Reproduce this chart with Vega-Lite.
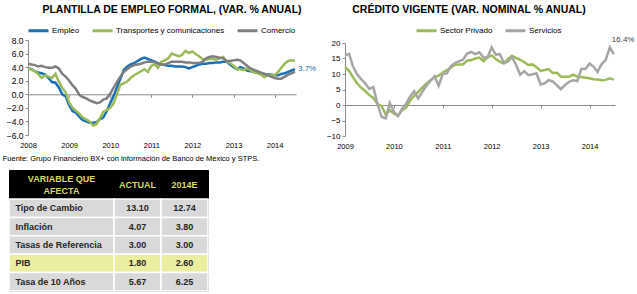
{
  "$schema": "https://vega.github.io/schema/vega-lite/v6.json",
  "background": "#ffffff",
  "autosize": {"type": "pad"},
  "padding": {"left": 2, "top": 4, "right": 2, "bottom": 2},
  "config": {
    "font": "Liberation Sans",
    "view": {"stroke": null},
    "axis": {"grid": false, "title": null, "labelColor": "#000000", "domainColor": "#8c8c8c", "tickColor": "#8c8c8c", "tickSize": 3, "domainWidth": 1, "tickWidth": 1},
    "legend": {"orient": "none", "direction": "horizontal", "symbolType": "stroke", "symbolSize": 400, "symbolStrokeWidth": 3, "labelFontSize": 8, "labelColor": "#000000", "columnPadding": 6, "labelOffset": 2, "padding": 0},
    "title": {"fontSize": 10.5, "fontWeight": "bold", "color": "#000000", "anchor": "middle"}
  },
  "datasets": {
    "empleo": [
      {"fecha": "2008-01-01", "Empleo": 3.8, "Transportes y comunicaciones": 3.9, "Comercio": 4.5},
      {"fecha": "2008-02-01", "Empleo": 3.7, "Transportes y comunicaciones": 3.6, "Comercio": 4.4},
      {"fecha": "2008-03-01", "Empleo": 3.4, "Transportes y comunicaciones": 3.4, "Comercio": 4.3},
      {"fecha": "2008-04-01", "Empleo": 3.2, "Transportes y comunicaciones": 3.0, "Comercio": 4.1},
      {"fecha": "2008-05-01", "Empleo": 3.1, "Transportes y comunicaciones": 2.4, "Comercio": 4.2},
      {"fecha": "2008-06-01", "Empleo": 2.9, "Transportes y comunicaciones": 2.8, "Comercio": 4.0},
      {"fecha": "2008-07-01", "Empleo": 2.4, "Transportes y comunicaciones": 2.6, "Comercio": 3.9},
      {"fecha": "2008-08-01", "Empleo": 1.8, "Transportes y comunicaciones": 2.4, "Comercio": 3.9},
      {"fecha": "2008-09-01", "Empleo": 1.7, "Transportes y comunicaciones": 3.0, "Comercio": 4.1},
      {"fecha": "2008-10-01", "Empleo": 1.0, "Transportes y comunicaciones": 1.9, "Comercio": 3.8},
      {"fecha": "2008-11-01", "Empleo": 0.0, "Transportes y comunicaciones": 0.9, "Comercio": 3.0},
      {"fecha": "2008-12-01", "Empleo": -0.3, "Transportes y comunicaciones": 0.3, "Comercio": 2.6},
      {"fecha": "2009-01-01", "Empleo": -1.6, "Transportes y comunicaciones": -1.2, "Comercio": 2.0},
      {"fecha": "2009-02-01", "Empleo": -2.5, "Transportes y comunicaciones": -2.0, "Comercio": 1.3},
      {"fecha": "2009-03-01", "Empleo": -2.7, "Transportes y comunicaciones": -2.4, "Comercio": 0.8},
      {"fecha": "2009-04-01", "Empleo": -3.3, "Transportes y comunicaciones": -2.9, "Comercio": -0.1},
      {"fecha": "2009-05-01", "Empleo": -3.8, "Transportes y comunicaciones": -3.4, "Comercio": -0.4},
      {"fecha": "2009-06-01", "Empleo": -4.0, "Transportes y comunicaciones": -3.7, "Comercio": -0.6},
      {"fecha": "2009-07-01", "Empleo": -4.2, "Transportes y comunicaciones": -4.0, "Comercio": -0.9},
      {"fecha": "2009-08-01", "Empleo": -4.2, "Transportes y comunicaciones": -4.6, "Comercio": -1.1},
      {"fecha": "2009-09-01", "Empleo": -4.1, "Transportes y comunicaciones": -4.4, "Comercio": -1.3},
      {"fecha": "2009-10-01", "Empleo": -3.7, "Transportes y comunicaciones": -3.5, "Comercio": -1.2},
      {"fecha": "2009-11-01", "Empleo": -3.4, "Transportes y comunicaciones": -2.6, "Comercio": -0.8},
      {"fecha": "2009-12-01", "Empleo": -2.5, "Transportes y comunicaciones": -2.3, "Comercio": -0.6},
      {"fecha": "2010-01-01", "Empleo": -1.3, "Transportes y comunicaciones": -2.0, "Comercio": 0.1},
      {"fecha": "2010-02-01", "Empleo": -0.2, "Transportes y comunicaciones": -1.3, "Comercio": 1.0},
      {"fecha": "2010-03-01", "Empleo": 1.0, "Transportes y comunicaciones": 0.0, "Comercio": 1.8},
      {"fecha": "2010-04-01", "Empleo": 2.3, "Transportes y comunicaciones": 1.4, "Comercio": 2.6},
      {"fecha": "2010-05-01", "Empleo": 3.6, "Transportes y comunicaciones": 1.6, "Comercio": 3.3},
      {"fecha": "2010-06-01", "Empleo": 4.1, "Transportes y comunicaciones": 1.9, "Comercio": 3.7},
      {"fecha": "2010-07-01", "Empleo": 4.4, "Transportes y comunicaciones": 2.4, "Comercio": 4.1},
      {"fecha": "2010-08-01", "Empleo": 4.6, "Transportes y comunicaciones": 2.8, "Comercio": 4.3},
      {"fecha": "2010-09-01", "Empleo": 4.9, "Transportes y comunicaciones": 3.1, "Comercio": 4.4},
      {"fecha": "2010-10-01", "Empleo": 5.2, "Transportes y comunicaciones": 3.4, "Comercio": 4.5},
      {"fecha": "2010-11-01", "Empleo": 5.4, "Transportes y comunicaciones": 3.7, "Comercio": 4.7},
      {"fecha": "2010-12-01", "Empleo": 5.2, "Transportes y comunicaciones": 3.3, "Comercio": 4.8},
      {"fecha": "2011-01-01", "Empleo": 5.0, "Transportes y comunicaciones": 4.2, "Comercio": 4.8},
      {"fecha": "2011-02-01", "Empleo": 4.8, "Transportes y comunicaciones": 4.4, "Comercio": 4.7},
      {"fecha": "2011-03-01", "Empleo": 4.6, "Transportes y comunicaciones": 3.9, "Comercio": 4.5},
      {"fecha": "2011-04-01", "Empleo": 4.4, "Transportes y comunicaciones": 4.8, "Comercio": 4.4},
      {"fecha": "2011-05-01", "Empleo": 4.3, "Transportes y comunicaciones": 5.0, "Comercio": 4.4},
      {"fecha": "2011-06-01", "Empleo": 4.2, "Transportes y comunicaciones": 5.3, "Comercio": 4.6},
      {"fecha": "2011-07-01", "Empleo": 4.2, "Transportes y comunicaciones": 6.0, "Comercio": 4.8},
      {"fecha": "2011-08-01", "Empleo": 4.1, "Transportes y comunicaciones": 5.8, "Comercio": 4.8},
      {"fecha": "2011-09-01", "Empleo": 4.1, "Transportes y comunicaciones": 5.6, "Comercio": 4.8},
      {"fecha": "2011-10-01", "Empleo": 4.1, "Transportes y comunicaciones": 5.8, "Comercio": 4.8},
      {"fecha": "2011-11-01", "Empleo": 4.0, "Transportes y comunicaciones": 6.4, "Comercio": 4.7},
      {"fecha": "2011-12-01", "Empleo": 3.8, "Transportes y comunicaciones": 6.1, "Comercio": 4.7},
      {"fecha": "2012-01-01", "Empleo": 4.0, "Transportes y comunicaciones": 6.3, "Comercio": 4.6},
      {"fecha": "2012-02-01", "Empleo": 4.2, "Transportes y comunicaciones": 5.9, "Comercio": 4.6},
      {"fecha": "2012-03-01", "Empleo": 4.4, "Transportes y comunicaciones": 5.6, "Comercio": 4.6},
      {"fecha": "2012-04-01", "Empleo": 4.5, "Transportes y comunicaciones": 5.2, "Comercio": 4.8},
      {"fecha": "2012-05-01", "Empleo": 4.5, "Transportes y comunicaciones": 5.1, "Comercio": 5.3},
      {"fecha": "2012-06-01", "Empleo": 4.6, "Transportes y comunicaciones": 5.2, "Comercio": 5.5},
      {"fecha": "2012-07-01", "Empleo": 4.6, "Transportes y comunicaciones": 5.2, "Comercio": 5.6},
      {"fecha": "2012-08-01", "Empleo": 4.7, "Transportes y comunicaciones": 5.1, "Comercio": 5.5},
      {"fecha": "2012-09-01", "Empleo": 4.7, "Transportes y comunicaciones": 5.3, "Comercio": 5.4},
      {"fecha": "2012-10-01", "Empleo": 4.8, "Transportes y comunicaciones": 5.5, "Comercio": 5.3},
      {"fecha": "2012-11-01", "Empleo": 4.8, "Transportes y comunicaciones": 4.8, "Comercio": 4.9},
      {"fecha": "2012-12-01", "Empleo": 4.4, "Transportes y comunicaciones": 4.6, "Comercio": 4.9},
      {"fecha": "2013-01-01", "Empleo": 4.0, "Transportes y comunicaciones": 4.2, "Comercio": 5.0},
      {"fecha": "2013-02-01", "Empleo": 3.7, "Transportes y comunicaciones": 3.7, "Comercio": 5.1},
      {"fecha": "2013-03-01", "Empleo": 4.0, "Transportes y comunicaciones": 3.7, "Comercio": 5.0},
      {"fecha": "2013-04-01", "Empleo": 3.8, "Transportes y comunicaciones": 3.6, "Comercio": 4.6},
      {"fecha": "2013-05-01", "Empleo": 3.5, "Transportes y comunicaciones": 3.8, "Comercio": 4.2},
      {"fecha": "2013-06-01", "Empleo": 3.4, "Transportes y comunicaciones": 3.5, "Comercio": 3.8},
      {"fecha": "2013-07-01", "Empleo": 3.3, "Transportes y comunicaciones": 3.2, "Comercio": 3.6},
      {"fecha": "2013-08-01", "Empleo": 3.2, "Transportes y comunicaciones": 3.1, "Comercio": 3.4},
      {"fecha": "2013-09-01", "Empleo": 3.1, "Transportes y comunicaciones": 2.9, "Comercio": 3.2},
      {"fecha": "2013-10-01", "Empleo": 3.0, "Transportes y comunicaciones": 2.5, "Comercio": 3.0},
      {"fecha": "2013-11-01", "Empleo": 2.9, "Transportes y comunicaciones": 2.8, "Comercio": 2.8},
      {"fecha": "2013-12-01", "Empleo": 2.9, "Transportes y comunicaciones": 2.9, "Comercio": 2.6},
      {"fecha": "2014-01-01", "Empleo": 2.8, "Transportes y comunicaciones": 2.8, "Comercio": 2.4},
      {"fecha": "2014-02-01", "Empleo": 2.8, "Transportes y comunicaciones": 3.3, "Comercio": 2.3},
      {"fecha": "2014-03-01", "Empleo": 3.0, "Transportes y comunicaciones": 3.9, "Comercio": 2.3},
      {"fecha": "2014-04-01", "Empleo": 3.1, "Transportes y comunicaciones": 4.5, "Comercio": 2.6},
      {"fecha": "2014-05-01", "Empleo": 3.3, "Transportes y comunicaciones": 4.9, "Comercio": 2.9},
      {"fecha": "2014-06-01", "Empleo": 3.5, "Transportes y comunicaciones": 5.0, "Comercio": 3.1},
      {"fecha": "2014-07-01", "Empleo": 3.7, "Transportes y comunicaciones": 4.9, "Comercio": 3.3}
    ],
    "credito": [
      {"fecha": "2009-01-01", "Sector Privado": 12.3, "Servicios": 16.0},
      {"fecha": "2009-02-01", "Sector Privado": 11.0, "Servicios": 16.5},
      {"fecha": "2009-03-01", "Sector Privado": 9.0, "Servicios": 12.5},
      {"fecha": "2009-04-01", "Sector Privado": 7.0, "Servicios": 10.0},
      {"fecha": "2009-05-01", "Sector Privado": 5.6, "Servicios": 8.3},
      {"fecha": "2009-06-01", "Sector Privado": 4.5, "Servicios": 7.0},
      {"fecha": "2009-07-01", "Sector Privado": 3.2, "Servicios": 5.2},
      {"fecha": "2009-08-01", "Sector Privado": 2.3, "Servicios": 5.8},
      {"fecha": "2009-09-01", "Sector Privado": 0.3, "Servicios": 0.2},
      {"fecha": "2009-10-01", "Sector Privado": -0.3, "Servicios": -3.8},
      {"fecha": "2009-11-01", "Sector Privado": -3.1, "Servicios": -4.3},
      {"fecha": "2009-12-01", "Sector Privado": -1.7, "Servicios": 0.6},
      {"fecha": "2010-01-01", "Sector Privado": -2.7, "Servicios": -2.1},
      {"fecha": "2010-02-01", "Sector Privado": -3.4, "Servicios": -3.6},
      {"fecha": "2010-03-01", "Sector Privado": -1.8, "Servicios": -1.4},
      {"fecha": "2010-04-01", "Sector Privado": -0.9, "Servicios": 0.3},
      {"fecha": "2010-05-01", "Sector Privado": 1.4, "Servicios": 2.7},
      {"fecha": "2010-06-01", "Sector Privado": 2.9, "Servicios": 4.4},
      {"fecha": "2010-07-01", "Sector Privado": 4.2, "Servicios": 2.1},
      {"fecha": "2010-08-01", "Sector Privado": 5.6, "Servicios": 4.3},
      {"fecha": "2010-09-01", "Sector Privado": 6.9, "Servicios": 6.2},
      {"fecha": "2010-10-01", "Sector Privado": 8.0, "Servicios": 7.8},
      {"fecha": "2010-11-01", "Sector Privado": 9.0, "Servicios": 9.2},
      {"fecha": "2010-12-01", "Sector Privado": 9.5, "Servicios": 6.2},
      {"fecha": "2011-01-01", "Sector Privado": 10.5, "Servicios": 10.0},
      {"fecha": "2011-02-01", "Sector Privado": 11.3, "Servicios": 10.2},
      {"fecha": "2011-03-01", "Sector Privado": 12.0, "Servicios": 12.5},
      {"fecha": "2011-04-01", "Sector Privado": 13.0, "Servicios": 13.5},
      {"fecha": "2011-05-01", "Sector Privado": 13.1, "Servicios": 14.1},
      {"fecha": "2011-06-01", "Sector Privado": 13.1, "Servicios": 14.6},
      {"fecha": "2011-07-01", "Sector Privado": 14.3, "Servicios": 16.6},
      {"fecha": "2011-08-01", "Sector Privado": 14.5, "Servicios": 17.1},
      {"fecha": "2011-09-01", "Sector Privado": 15.0, "Servicios": 16.4},
      {"fecha": "2011-10-01", "Sector Privado": 15.3, "Servicios": 17.0},
      {"fecha": "2011-11-01", "Sector Privado": 14.2, "Servicios": 15.3},
      {"fecha": "2011-12-01", "Sector Privado": 15.4, "Servicios": 15.4},
      {"fecha": "2012-01-01", "Sector Privado": 16.0, "Servicios": 18.6},
      {"fecha": "2012-02-01", "Sector Privado": 14.8, "Servicios": 16.2},
      {"fecha": "2012-03-01", "Sector Privado": 14.0, "Servicios": 16.5},
      {"fecha": "2012-04-01", "Sector Privado": 13.4, "Servicios": 13.6},
      {"fecha": "2012-05-01", "Sector Privado": 14.8, "Servicios": 13.9},
      {"fecha": "2012-06-01", "Sector Privado": 15.9, "Servicios": 15.5},
      {"fecha": "2012-07-01", "Sector Privado": 15.2, "Servicios": 13.0},
      {"fecha": "2012-08-01", "Sector Privado": 14.6, "Servicios": 9.8},
      {"fecha": "2012-09-01", "Sector Privado": 13.8, "Servicios": 10.9},
      {"fecha": "2012-10-01", "Sector Privado": 12.9, "Servicios": 9.6},
      {"fecha": "2012-11-01", "Sector Privado": 13.1, "Servicios": 9.9},
      {"fecha": "2012-12-01", "Sector Privado": 12.2, "Servicios": 10.2},
      {"fecha": "2013-01-01", "Sector Privado": 11.0, "Servicios": 6.6},
      {"fecha": "2013-02-01", "Sector Privado": 11.3, "Servicios": 7.0},
      {"fecha": "2013-03-01", "Sector Privado": 11.6, "Servicios": 8.0},
      {"fecha": "2013-04-01", "Sector Privado": 10.3, "Servicios": 7.6},
      {"fecha": "2013-05-01", "Sector Privado": 10.4, "Servicios": 6.4},
      {"fecha": "2013-06-01", "Sector Privado": 9.2, "Servicios": 5.1},
      {"fecha": "2013-07-01", "Sector Privado": 9.1, "Servicios": 6.4},
      {"fecha": "2013-08-01", "Sector Privado": 9.1, "Servicios": 7.5},
      {"fecha": "2013-09-01", "Sector Privado": 9.8, "Servicios": 8.0},
      {"fecha": "2013-10-01", "Sector Privado": 9.2, "Servicios": 7.7},
      {"fecha": "2013-11-01", "Sector Privado": 9.0, "Servicios": 11.7},
      {"fecha": "2013-12-01", "Sector Privado": 8.8, "Servicios": 11.6},
      {"fecha": "2014-01-01", "Sector Privado": 8.6, "Servicios": 13.4},
      {"fecha": "2014-02-01", "Sector Privado": 8.3, "Servicios": 12.3},
      {"fecha": "2014-03-01", "Sector Privado": 8.2, "Servicios": 10.7},
      {"fecha": "2014-04-01", "Sector Privado": 8.0, "Servicios": 13.2},
      {"fecha": "2014-05-01", "Sector Privado": 8.1, "Servicios": 14.5},
      {"fecha": "2014-06-01", "Sector Privado": 8.6, "Servicios": 18.6},
      {"fecha": "2014-07-01", "Sector Privado": 8.2, "Servicios": 16.4}
    ],
    "tabla": [
      {"variable": "Tipo de Cambio", "ACTUAL": 13.10, "2014E": 12.74},
      {"variable": "Inflación", "ACTUAL": 4.07, "2014E": 3.80},
      {"variable": "Tasas de Referencia", "ACTUAL": 3.00, "2014E": 3.00},
      {"variable": "PIB", "ACTUAL": 1.80, "2014E": 2.60},
      {"variable": "Tasa de 10 Años", "ACTUAL": 5.67, "2014E": 6.25}
    ]
  },
  "bounds": "flush",
  "spacing": 130,
  "resolve": {"scale": {"color": "independent", "x": "independent", "y": "independent"}, "legend": {"color": "independent"}},
  "vconcat": [
    {
      "bounds": "flush",
      "spacing": 49,
      "resolve": {"scale": {"color": "independent", "x": "independent", "y": "independent"}, "legend": {"color": "independent"}},
      "hconcat": [
        {
          "width": 287,
          "height": 96,
          "data": {"name": "empleo"},
          "transform": [{"fold": ["Empleo", "Transportes y comunicaciones", "Comercio"], "as": ["serie", "valor"]}],
          "title": {"text": "PLANTILLA DE EMPLEO FORMAL, (VAR. % ANUAL)", "dx": 19.5, "offset": 4},
          "encoding": {
            "x": {
              "field": "fecha", "type": "temporal",
              "scale": {"type": "utc", "domain": [{"year": 2008, "month": 1, "date": 1, "utc": true}, {"year": 2014, "month": 7, "date": 10, "utc": true}], "range": [19, 287]},
              "axis": {
                "values": [
                  {"year": 2008, "month": 1, "date": 1, "utc": true}, {"year": 2009, "month": 1, "date": 1, "utc": true},
                  {"year": 2010, "month": 1, "date": 1, "utc": true}, {"year": 2011, "month": 1, "date": 1, "utc": true},
                  {"year": 2012, "month": 1, "date": 1, "utc": true}, {"year": 2013, "month": 1, "date": 1, "utc": true},
                  {"year": 2014, "month": 1, "date": 1, "utc": true}
                ],
                "format": "%Y", "offset": -41.7, "labelPadding": 44, "labelFontSize": 7.5, "labelFlush": false, "labelOverlap": false
              }
            },
            "y": {
              "field": "valor", "type": "quantitative",
              "scale": {"domain": [-6, 8], "range": [95, 0], "nice": false, "zero": false},
              "axis": {"values": [-6, -4, -2, 0, 2, 4, 6, 8], "format": ".1f", "offset": -19, "labelPadding": 2, "labelFontSize": 8.5}
            }
          },
          "layer": [
            {
              "mark": {"type": "line", "strokeWidth": 2.5},
              "encoding": {
                "color": {
                  "field": "serie", "type": "nominal",
                  "scale": {"domain": ["Empleo", "Transportes y comunicaciones", "Comercio"], "range": ["#1a6fb9", "#9bbb59", "#7f7f7f"]},
                  "legend": {"title": null, "legendX": 18, "legendY": -21}
                }
              }
            },
            {
              "transform": [
                {"filter": "datum.serie === 'Empleo'"},
                {"window": [{"op": "row_number", "as": "orden"}], "sort": [{"field": "fecha", "order": "descending"}]},
                {"filter": "datum.orden === 1"},
                {"calculate": "format(datum.valor, '.1f') + '%'", "as": "etiqueta"}
              ],
              "mark": {"type": "text", "align": "left", "baseline": "middle", "dx": 3, "fontSize": 8, "color": "#1a6fb9"},
              "encoding": {"text": {"field": "etiqueta"}}
            }
          ]
        },
        {
          "width": 270,
          "height": 96,
          "data": {"name": "credito"},
          "transform": [{"fold": ["Sector Privado", "Servicios"], "as": ["serie", "valor"]}],
          "title": {"text": "CRÉDITO VIGENTE (VAR. NOMINAL % ANUAL)", "dx": -11, "offset": 4},
          "encoding": {
            "x": {
              "field": "fecha", "type": "temporal",
              "scale": {"type": "utc", "domain": [{"year": 2009, "month": 1, "date": 1, "utc": true}, {"year": 2014, "month": 7, "date": 10, "utc": true}]},
              "axis": {
                "values": [
                  {"year": 2009, "month": 1, "date": 1, "utc": true}, {"year": 2010, "month": 1, "date": 1, "utc": true},
                  {"year": 2011, "month": 1, "date": 1, "utc": true}, {"year": 2012, "month": 1, "date": 1, "utc": true},
                  {"year": 2013, "month": 1, "date": 1, "utc": true}, {"year": 2014, "month": 1, "date": 1, "utc": true}
                ],
                "format": "%Y", "offset": -31, "labelPadding": 34, "labelFontSize": 7.5, "labelFlush": false, "labelOverlap": false
              }
            },
            "y": {
              "field": "valor", "type": "quantitative",
              "scale": {"domain": [-10, 20], "range": [96, 3], "nice": false, "zero": false},
              "axis": {"values": [-10, -5, 0, 5, 10, 15, 20], "format": "d", "labelPadding": 2, "labelFontSize": 8}
            }
          },
          "layer": [
            {
              "mark": {"type": "line", "strokeWidth": 2.5},
              "encoding": {
                "color": {
                  "field": "serie", "type": "nominal",
                  "scale": {"domain": ["Sector Privado", "Servicios"], "range": ["#9bbb59", "#a6a6a6"]},
                  "legend": {"title": null, "legendX": 70, "legendY": -21}
                }
              }
            },
            {
              "transform": [
                {"filter": "datum.serie === 'Servicios'"},
                {"window": [{"op": "row_number", "as": "orden"}], "sort": [{"field": "fecha", "order": "descending"}]},
                {"filter": "datum.orden === 1"},
                {"calculate": "format(datum.valor, '.1f') + '%'", "as": "etiqueta"}
              ],
              "mark": {"type": "text", "align": "left", "baseline": "middle", "dx": -2, "dy": -14, "fontSize": 8, "color": "#404040"},
              "encoding": {"text": {"field": "etiqueta"}}
            }
          ]
        }
      ]
    },
    {
      "title": {"text": "Fuente: Grupo Financiero BX+ con información de Banco de México y STPS.", "anchor": "start", "fontSize": 7.5, "fontWeight": "normal", "dx": -5, "offset": 7},
      "bounds": "flush",
      "spacing": 29,
      "resolve": {"scale": {"x": "independent", "y": "independent"}},
      "vconcat": [
        {
          "bounds": "flush",
          "spacing": 0,
          "resolve": {"scale": {"x": "independent", "y": "independent"}},
          "hconcat": [
            {
              "width": 105,
              "height": 29,
              "view": {"fill": "#000000", "stroke": "#000000"},
              "data": {"values": [{"encabezado": "VARIABLE QUE\nAFECTA"}]},
              "mark": {"type": "text", "lineBreak": "\n", "lineHeight": 12.5, "fontSize": 9, "fontWeight": "bold", "color": "#d6d95c", "baseline": "middle", "align": "center", "dy": -6},
              "encoding": {"text": {"field": "encabezado"}}
            },
            {
              "width": 94,
              "height": 29,
              "view": {"fill": "#000000", "stroke": "#000000"},
              "data": {"values": [{"columna": "ACTUAL"}, {"columna": "2014E"}]},
              "mark": {"type": "text", "fontSize": 9, "fontWeight": "bold", "color": "#d6d95c", "baseline": "middle", "align": "center"},
              "encoding": {
                "x": {"field": "columna", "type": "nominal", "sort": ["ACTUAL", "2014E"], "axis": null, "scale": {"paddingInner": 0, "paddingOuter": 0}},
                "text": {"field": "columna"}
              }
            }
          ]
        },
        {
          "bounds": "flush",
          "spacing": 0,
          "resolve": {"scale": {"x": "independent", "y": "independent"}},
          "hconcat": [
            {
              "width": 105,
              "height": 92,
              "view": {"stroke": "#8c8c8c"},
              "data": {"name": "tabla"},
              "encoding": {
                "y": {"field": "variable", "type": "nominal", "sort": ["Tipo de Cambio", "Inflación", "Tasas de Referencia", "PIB", "Tasa de 10 Años"], "axis": null, "scale": {"paddingInner": 0, "paddingOuter": 0}},
                "x": {"datum": 0, "type": "quantitative", "scale": {"domain": [0, 1]}, "axis": null}
              },
              "layer": [
                {
                  "mark": {"type": "rect", "stroke": "#ffffff", "strokeWidth": 1.5},
                  "encoding": {
                    "x2": {"datum": 1},
                    "fill": {"condition": {"test": "datum.variable === 'PIB'", "value": "#ebee9f"}, "value": "#d9d9d9"}
                  }
                },
                {
                  "mark": {"type": "text", "align": "left", "baseline": "middle", "dx": 6.5, "fontSize": 9, "fontWeight": "bold", "color": "#262626"},
                  "encoding": {"text": {"field": "variable"}}
                }
              ]
            },
            {
              "width": 94,
              "height": 92,
              "view": {"stroke": "#8c8c8c"},
              "data": {"name": "tabla"},
              "transform": [{"fold": ["ACTUAL", "2014E"], "as": ["columna", "valor"]}],
              "encoding": {
                "y": {"field": "variable", "type": "nominal", "sort": ["Tipo de Cambio", "Inflación", "Tasas de Referencia", "PIB", "Tasa de 10 Años"], "axis": null, "scale": {"paddingInner": 0, "paddingOuter": 0}},
                "x": {"field": "columna", "type": "nominal", "sort": ["ACTUAL", "2014E"], "axis": null, "scale": {"paddingInner": 0, "paddingOuter": 0}}
              },
              "layer": [
                {
                  "mark": {"type": "rect", "stroke": "#ffffff", "strokeWidth": 1.5},
                  "encoding": {
                    "fill": {"condition": {"test": "datum.variable === 'PIB'", "value": "#ebee9f"}, "value": "#d9d9d9"}
                  }
                },
                {
                  "mark": {"type": "text", "align": "center", "baseline": "middle", "fontSize": 9, "fontWeight": "bold", "color": "#262626"},
                  "encoding": {"text": {"field": "valor", "type": "quantitative", "format": ".2f"}}
                }
              ]
            }
          ]
        }
      ]
    }
  ]
}
